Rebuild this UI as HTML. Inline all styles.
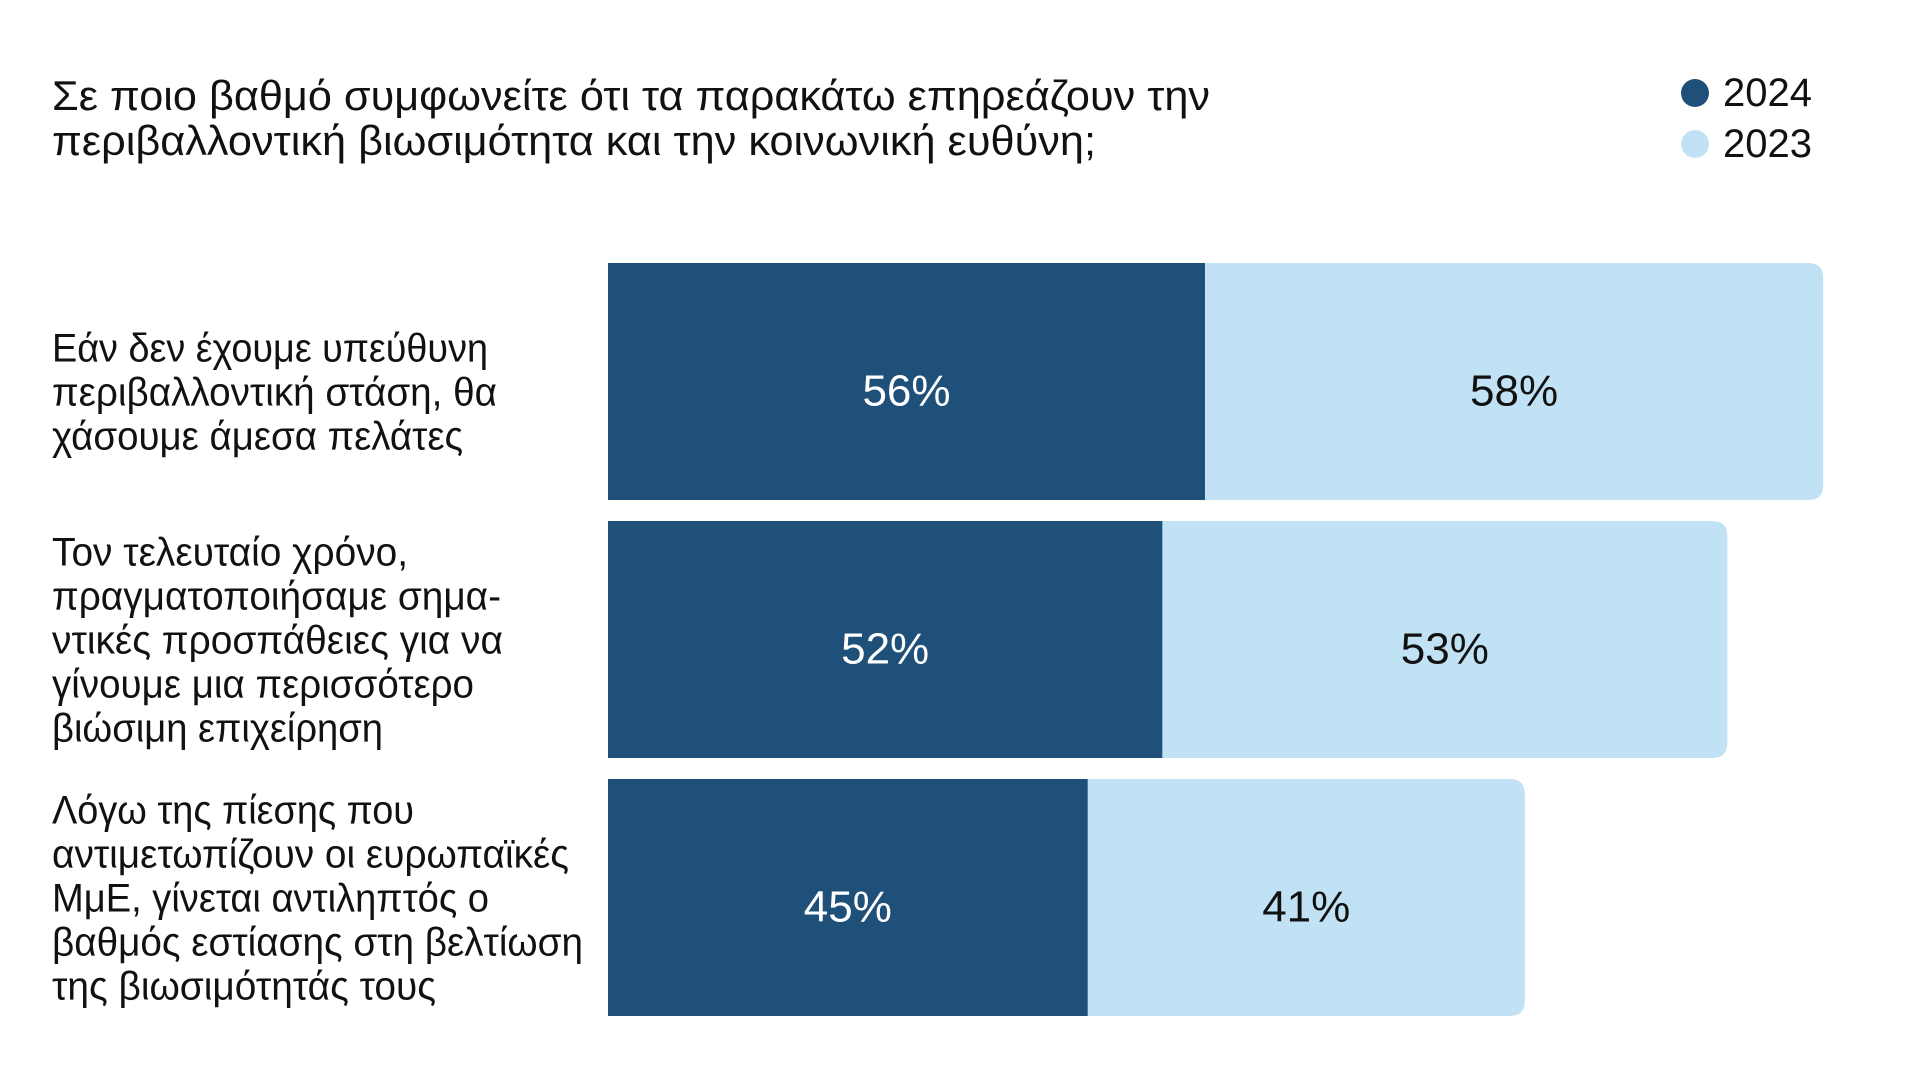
<!DOCTYPE html>
<html><head><meta charset="utf-8"><style>
html,body{margin:0;padding:0;background:#fff;}
svg{display:block;}
text{font-family:"Liberation Sans","DejaVu Sans",sans-serif;}
</style></head><body>
<svg id="chart" width="1920" height="1080" viewBox="0 0 1920 1080">
<g>
<text x="52" y="110" font-size="42" fill="#111" textLength="1158" lengthAdjust="spacingAndGlyphs">Σε ποιο βαθμό συμφωνείτε ότι τα παρακάτω επηρεάζουν την</text>
<text x="52" y="155" font-size="42" fill="#111" textLength="1044" lengthAdjust="spacingAndGlyphs">περιβαλλοντική βιωσιμότητα και την κοινωνική ευθύνη;</text>
</g>
<g>
<g><circle cx="1695" cy="93" r="14" fill="#1f5079"/><text x="1723" y="106" font-size="40" fill="#111">2024</text></g>
<g><circle cx="1695" cy="144" r="14" fill="#c1e2f4"/><text x="1723" y="157" font-size="40" fill="#111">2023</text></g>
</g>
<g id="bars"></g>
<g id="labels"></g>
</svg>
<script>
const categories = [
 ["Εάν δεν έχουμε υπεύθυνη","περιβαλλοντική στάση, θα","χάσουμε άμεσα πελάτες"],
 ["Τον τελευταίο χρόνο,","πραγματοποιήσαμε σημα-","ντικές προσπάθειες για να","γίνουμε μια περισσότερο","βιώσιμη επιχείρηση"],
 ["Λόγω της πίεσης που","αντιμετωπίζουν οι ευρωπαϊκές","ΜμΕ, γίνεται αντιληπτός ο","βαθμός εστίασης στη βελτίωση","της βιωσιμότητάς τους"]
];
const values2024 = [56, 52, 45];
const values2023 = [58, 53, 41];
const valueLabels2024 = ["56%","52%","45%"];
const valueLabels2023 = ["58%","53%","41%"];
const lineWidths = [[436,445,411],[356,449,451,422,331],[362,517,437,531,384]];

const NS="http://www.w3.org/2000/svg";
const x0=608, pxPer=10.66, barTop=263, barH=237, barStep=258, r=15;
function xs(v){return x0+v*pxPer;}
function yTop(i){return barTop+i*barStep;}
const bars=document.getElementById('bars');
const labels=document.getElementById('labels');
function mk(tag,attrs,parent){const e=document.createElementNS(NS,tag);for(const k in attrs)e.setAttribute(k,attrs[k]);parent.appendChild(e);return e;}
categories.forEach((lines,i)=>{
  const y=yTop(i), a=values2024[i], b=values2023[i];
  const xa=xs(a), xe=xs(a+b);
  const g=mk('g',{},bars);
  
  
  const p=mk('path',{d:`M${xa-1},${y} H${xe-r} Q${xe},${y} ${xe},${y+r} V${y+barH-r} Q${xe},${y+barH} ${xe-r},${y+barH} H${xa-1} Z`,fill:'#c1e2f4'},g);
  
  
  const d=mk('rect',{x:x0,y:y,width:xa-x0,height:barH,fill:'#1f5079'},g);
  
  
  const ty=y+barH/2+24;
  const t1=mk('text',{x:(x0+xa)/2,y:ty,'font-size':44,fill:'#ffffff','text-anchor':'middle'},g);
  t1.textContent=valueLabels2024[i];
  
  
  const t2=mk('text',{x:(xa+xe)/2,y:ty,'font-size':44,fill:'#111111','text-anchor':'middle'},g);
  t2.textContent=valueLabels2023[i];
  
  
  const lg=mk('g',{},labels);
  
  
  const n=lines.length, cy=y+barH/2, pitch=44;
  const first=cy-(n-1)*pitch/2+14+(n===3?10:0);
  lines.forEach((ln,j)=>{
    const t=mk('text',{x:52,y:first+j*pitch,'font-size':40,fill:'#111',textLength:lineWidths[i][j],lengthAdjust:'spacingAndGlyphs'},lg);
    t.textContent=ln;
  });
});
</script>
</body></html>
